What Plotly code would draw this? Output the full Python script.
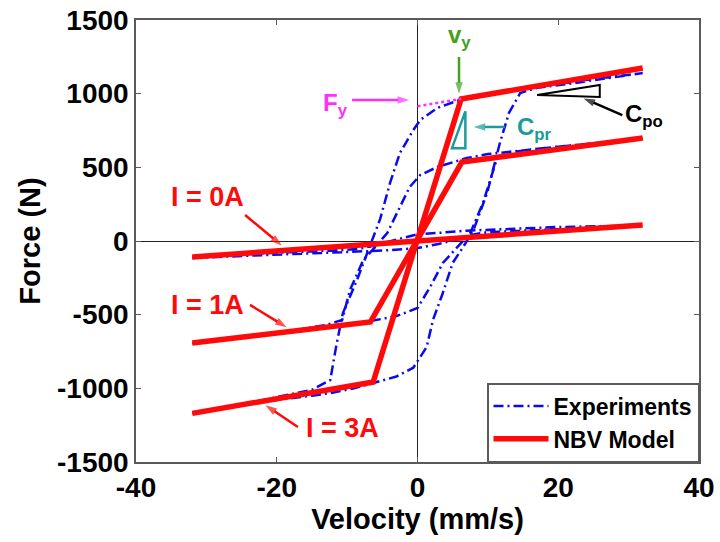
import plotly.graph_objects as go

# ---------------- data ----------------
# Experiments (hysteresis loops), velocity in mm/s, force in N
v_exp_3A = [-32, -25, -20, -15, -12.4, -9, -6.3, -3, -0.6, 1.3, 2.2, 3.6, 5.0, 6.5, 8.0, 9.9, 11.7, 13.0, 14.6, 17, 22, 27, 32,
            25, 20, 15, 10, 6, 2.8, 0.4, -0.6, -2.5, -3.9, -5.3, -6.3, -8.6, -10.6, -11.5, -12.4, -15, -20, -25, -32]
F_exp_3A = [-1170, -1120, -1080, -1050, -1032, -1000, -964, -920, -860, -720, -536, -353, -149, -40, 80, 326, 665, 870, 1005, 1040, 1070, 1105, 1140,
            1100, 1065, 1030, 1000, 957, 903, 822, 753, 597, 394, 150, 27, -265, -489, -700, -944, -1010, -1060, -1110, -1165]

v_exp_1A = [-32, -25, -20, -15, -10, -6.3, -3, 0, 1.8, 3.6, 5.6, 7.5, 9.3, 10.5, 11.3, 13, 16, 20, 25, 32,
            25, 20, 15, 10, 7, 2.8, 0.4, -1.1, -2.5, -4.3, -6, -7.7, -9.6, -10.7, -13, -18, -25, -32]
F_exp_1A = [-695, -660, -630, -600, -570, -540, -510, -455, -312, -149, -41, 54, 258, 440, 560, 600, 620, 640, 665, 695,
            660, 640, 615, 590, 563, 502, 448, 367, 231, 54, -40, -129, -333, -536, -570, -610, -655, -690]

v_exp_0A = [-32, -20, -10, -5, 0, 3, 6, 8, 10, 15, 20, 32,
            20, 10, 7, 3, 0, -3, -6, -8, -10, -20, -32]
F_exp_0A = [-115, -95, -75, -65, -48, -20, 15, 45, 60, 70, 80, 105,
            95, 75, 70, 55, 45, 10, -30, -50, -60, -80, -105]

# NBV model (bilinear)
v_mod_3A = [-32, -6.3, 6.2, 32]
F_mod_3A = [-1170, -957, 964, 1174]
v_mod_1A = [-32, -6.7, 6.3, 32]
F_mod_1A = [-692, -550, 536, 699]
v_mod_0A = [-32, 0, 32]
F_mod_0A = [-108, 0, 108]

# Fy dotted extension
v_fy = [0, 6.2]
F_fy = [915, 964]

x_ticks = [-40, -20, 0, 20, 40]
x_tick_text = ["-40", "-20", "0", "20", "40"]
y_ticks = [-1500, -1000, -500, 0, 500, 1000, 1500]
y_tick_text = ["-1500", "-1000", "-500", "0", "500", "1000", "1500"]

FONT = "Liberation Sans, Arial, sans-serif"
BLUE = "#0a0aee"
RED = "#ff0a0a"
GREEN = "#44a020"
MAGENTA = "#ff30ff"
TEAL = "#1a9c9c"

fig = go.Figure()

exp_sets = [(v_exp_0A, F_exp_0A), (v_exp_1A, F_exp_1A), (v_exp_3A, F_exp_3A)]
for i, (vx, fy) in enumerate(exp_sets):
    fig.add_trace(go.Scatter(x=vx, y=fy, mode="lines", name="Experiments",
                             legendgroup="exp", showlegend=(i == 0),
                             line=dict(color=BLUE, width=2.5, dash="10px,4px,2px,4px")))

mod_sets = [(v_mod_0A, F_mod_0A), (v_mod_1A, F_mod_1A), (v_mod_3A, F_mod_3A)]
for i, (vx, fy) in enumerate(mod_sets):
    fig.add_trace(go.Scatter(x=vx, y=fy, mode="lines", name="NBV Model",
                             legendgroup="mod", showlegend=(i == 0),
                             line=dict(color=RED, width=5.5)))

fig.add_trace(go.Scatter(x=v_fy, y=F_fy, mode="lines", showlegend=False,
                         line=dict(color=MAGENTA, width=2.5, dash="dot")))

# triangles
fig.add_shape(type="path", xref="x", yref="y",
              path="M 6.8,880 L 4.9,630 L 6.8,630 Z",
              line=dict(color=TEAL, width=2.5))
fig.add_shape(type="path", xref="x", yref="y",
              path="M 17,991 L 25.9,1059 L 25.9,977 Z",
              line=dict(color="black", width=2))

# arrows drawn as line + arrow-marker at the head
def arrow(x0, y0, x1, y1, color, width=2.5):
    fig.add_trace(go.Scatter(x=[x0, x1], y=[y0, y1], mode="lines+markers", showlegend=False,
                             hoverinfo="skip",
                             line=dict(color=color, width=width),
                             marker=dict(symbol="arrow", size=[0, 12], angleref="previous",
                                         color=color, line=dict(width=0))))

annotations = []
def label(x, y, text, color, size):
    annotations.append(dict(x=x, y=y, xref="x", yref="y", text=text, showarrow=False,
                            font=dict(family=FONT, size=size, color=color, weight="bold")))

# I = ... labels with arrows
label(-29.9, 299, "I = 0A", RED, 27)
arrow(-24.5, 176, -19.3, -30, RED)
label(-29.9, -434, "I = 1A", RED, 27)
arrow(-23.8, -434, -18.6, -585, RED)
label(-10.6, -1269, "I = 3A", RED, 27)
arrow(-17.0, -1262, -21.6, -1115, RED)

# vy
label(5.9, 1385, "v<sub>y</sub>", GREEN, 24)
arrow(5.9, 1249, 5.9, 1000, GREEN)
# Fy
label(-11.6, 925, "F<sub>y</sub>", MAGENTA, 24)
arrow(-9.3, 957, -1.2, 957, MAGENTA)
# Cpr
label(16.6, 765, "C<sub>pr</sub>", TEAL, 24)
arrow(12.4, 774, 8.0, 774, TEAL)
# Cpo
label(32.2, 850, "C<sub>po</sub>", "black", 24)
arrow(29.1, 855, 23.6, 968, "black")

axis_common = dict(
    showgrid=False, showline=True, linecolor="#5a5a5a", linewidth=1.5, mirror="ticks",
    ticks="inside", ticklen=5, tickcolor="#5a5a5a", tickwidth=1,
    zeroline=True, zerolinecolor="#222222", zerolinewidth=1.2, automargin=False,
    tickfont=dict(family=FONT, size=28, color="black", weight="bold"),
)

fig.update_layout(
    width=720, height=542,
    margin=dict(l=136, r=21, t=20, b=80),
    paper_bgcolor="white", plot_bgcolor="white",
    annotations=annotations,
    xaxis=dict(range=[-40, 40], tickvals=x_ticks, ticktext=x_tick_text, **axis_common,
               title=dict(text="Velocity (mm/s)", standoff=6,
                          font=dict(family=FONT, size=29, color="black", weight="bold"))),
    yaxis=dict(range=[-1500, 1500], tickvals=y_ticks, ticktext=y_tick_text, **axis_common,
               title=dict(text="Force (N)", standoff=8,
                          font=dict(family=FONT, size=29, color="black", weight="bold"))),
    legend=dict(x=1, y=0, xanchor="right", yanchor="bottom",
                bgcolor="white", bordercolor="#5a5a5a", borderwidth=1.5,
                font=dict(family=FONT, size=23, color="black", weight="bold"),
                itemwidth=55, tracegroupgap=0),
    showlegend=True,
)

fig.write_html("out.html", config={"displayModeBar": False},
               post_script="document.body.style.margin='0';document.body.style.overflow='hidden';")
